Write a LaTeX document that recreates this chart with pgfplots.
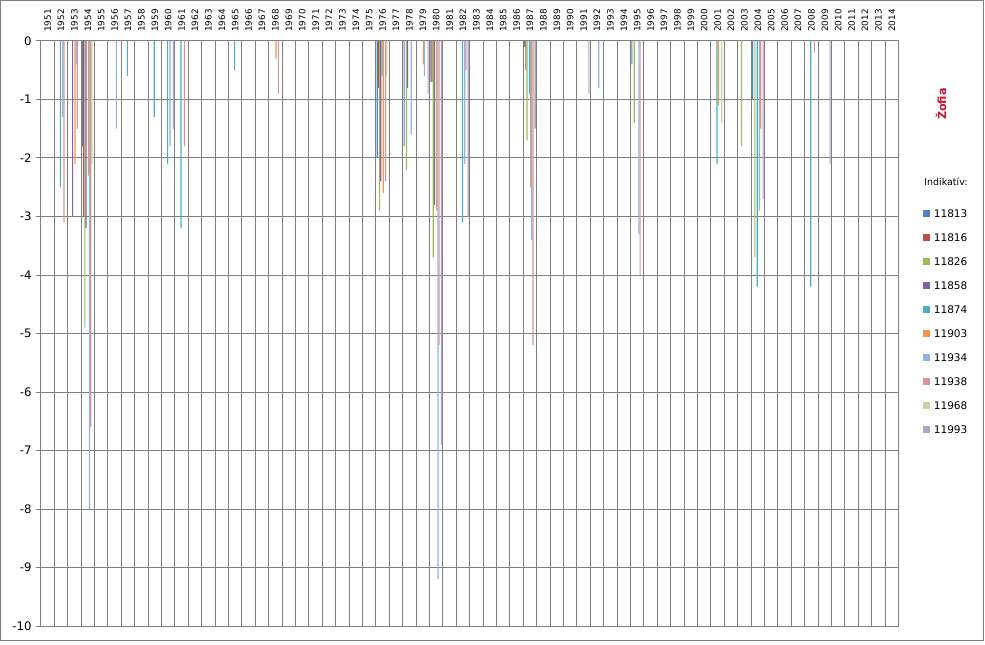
\documentclass[border=0pt]{standalone}
\usepackage{fontspec}
\setmainfont{DejaVu Sans}
\usepackage{pgfplots}
\pgfplotsset{compat=1.18}
\definecolor{c0}{HTML}{4F81BD}
\definecolor{c1}{HTML}{C0504D}
\definecolor{c2}{HTML}{9BBB59}
\definecolor{c3}{HTML}{8064A2}
\definecolor{c4}{HTML}{4BACC6}
\definecolor{c5}{HTML}{F79646}
\definecolor{c6}{HTML}{8EB4E3}
\definecolor{c7}{HTML}{D99694}
\definecolor{c8}{HTML}{C3D69B}
\definecolor{c9}{HTML}{B3A2C7}
\definecolor{gridc}{HTML}{7F7F7F}
\definecolor{titlered}{HTML}{C8102E}
\pgfplotsset{ybar legend/.style={/pgfplots/legend image code/.code={\fill[##1] (0pt,-2.6pt) rectangle (5.25pt,2.6pt);}}}
\begin{document}
\begin{tikzpicture}
\path[use as bounding box] (-30.675pt,-13.5pt) rectangle (708.075pt,469.5pt);
\draw[gridc, line width=0.75pt] (-30pt,-11pt) rectangle (706.8pt,468.8pt);
\begin{axis}[
  at={(0pt,0pt)}, anchor=south west,
  width=643.2pt, height=438.75pt, scale only axis,
  ybar=0pt, bar width=0.088,
  xmin=-0.5, xmax=63.5, ymin=-10, ymax=0,
  enlargelimits=false,
  xtick={0,...,63},
  xticklabel={\pgfmathtruncatemacro\yr{\tick+1951}\yr},
  xticklabel pos=right,
  xticklabel style={rotate=90, anchor=west, font=\fontsize{6.6}{7}\selectfont},
  xtick style={draw=none},
  minor xtick={0.5,1.5,...,62.5},
  minor tick length=0pt,
  ytick={-10,-9,...,0},
  ytick pos=left,
  tick align=outside,
  major tick length=3.5pt,
  ytick style={gridc, line width=0.75pt},
  yticklabel style={font=\fontsize{8.8}{10}\selectfont},
  /pgf/number format/assume math mode=true,
  ymajorgrids, xminorgrids,
  grid style={gridc, line width=0.75pt},
  minor grid style={gridc, line width=0.75pt},
  axis line style={gridc, line width=0.75pt},
  legend style={at={(axis description cs:1.0289,0.711)}, anchor=north west,
    draw=none, fill=none, inner sep=0pt, outer sep=0pt,
    font=\fontsize{7.9}{9}\selectfont,
    nodes={inner sep=0pt, text height=5.7pt, text depth=0pt},
    row sep=12.3pt,
    /tikz/every odd column/.append style={column sep=2.7pt}},
  legend cell align=left,
]
\addplot[fill=c0, draw=none] coordinates {(3,-1.8) (25,-2.0) (27,-1.8) (29,-0.7) (36,-0.1) (44,-0.4) (53,-1.0)};
\addlegendentry{11813}
\addplot[fill=c1, draw=none] coordinates {(3,-3.0) (25,-0.8) (29,-0.7) (36,-0.5)};
\addlegendentry{11816}
\addplot[fill=c2, draw=none] coordinates {(3,-4.9) (25,-2.9) (27,-2.2) (29,-3.7) (36,-1.7) (44,-1.4) (52,-1.8) (53,-3.7)};
\addlegendentry{11826}
\addplot[fill=c3, draw=none] coordinates {(2,-3.0) (3,-3.2) (25,-2.4) (27,-0.8) (29,-2.8)};
\addlegendentry{11858}
\addplot[fill=c4, draw=none] coordinates {(1,-2.5) (6,-0.6) (8,-1.3) (9,-2.1) (10,-3.2) (14,-0.5) (25,-0.6) (31,-3.1) (36,-0.9) (50,-2.1) (53,-4.2) (57,-4.2)};
\addlegendentry{11874}
\addplot[fill=c5, draw=none] coordinates {(2,-2.1) (3,-2.3) (17,-0.3) (25,-2.6) (28,-0.4) (29,-2.9) (36,-2.5) (50,-1.1)};
\addlegendentry{11903}
\addplot[fill=c6, draw=none] coordinates {(1,-1.3) (2,-0.4) (3,-8.0) (5,-1.5) (9,-1.8) (27,-1.6) (28,-0.6) (29,-9.2) (31,-2.1) (36,-3.4) (41,-0.8) (44,-3.3) (53,-2.9)};
\addlegendentry{11934}
\addplot[fill=c7, draw=none] coordinates {(1,-3.1) (2,-1.5) (3,-6.6) (10,-1.8) (17,-0.9) (25,-2.4) (29,-5.2) (31,-0.5) (36,-5.2) (44,-4.0) (53,-1.5) (57,-0.2)};
\addlegendentry{11938}
\addplot[fill=c8, draw=none] coordinates {(3,-2.1) (25,-0.6) (36,-1.5) (50,-1.4)};
\addlegendentry{11968}
\addplot[fill=c9, draw=none] coordinates {(9,-1.5) (28,-0.9) (29,-6.9) (31,-3.0) (36,-1.5) (40,-0.9) (53,-2.7) (58,-2.1)};
\addlegendentry{11993}
\end{axis}
\node[rotate=90, text=titlered, font=\fontsize{8.4}{10}\bfseries] at (675.1pt,391.5pt) {Žofia};
\node[font=\fontsize{7.1}{8}\selectfont] at (678.8pt,333pt) {Indikatív:};
\end{tikzpicture}
\end{document}
